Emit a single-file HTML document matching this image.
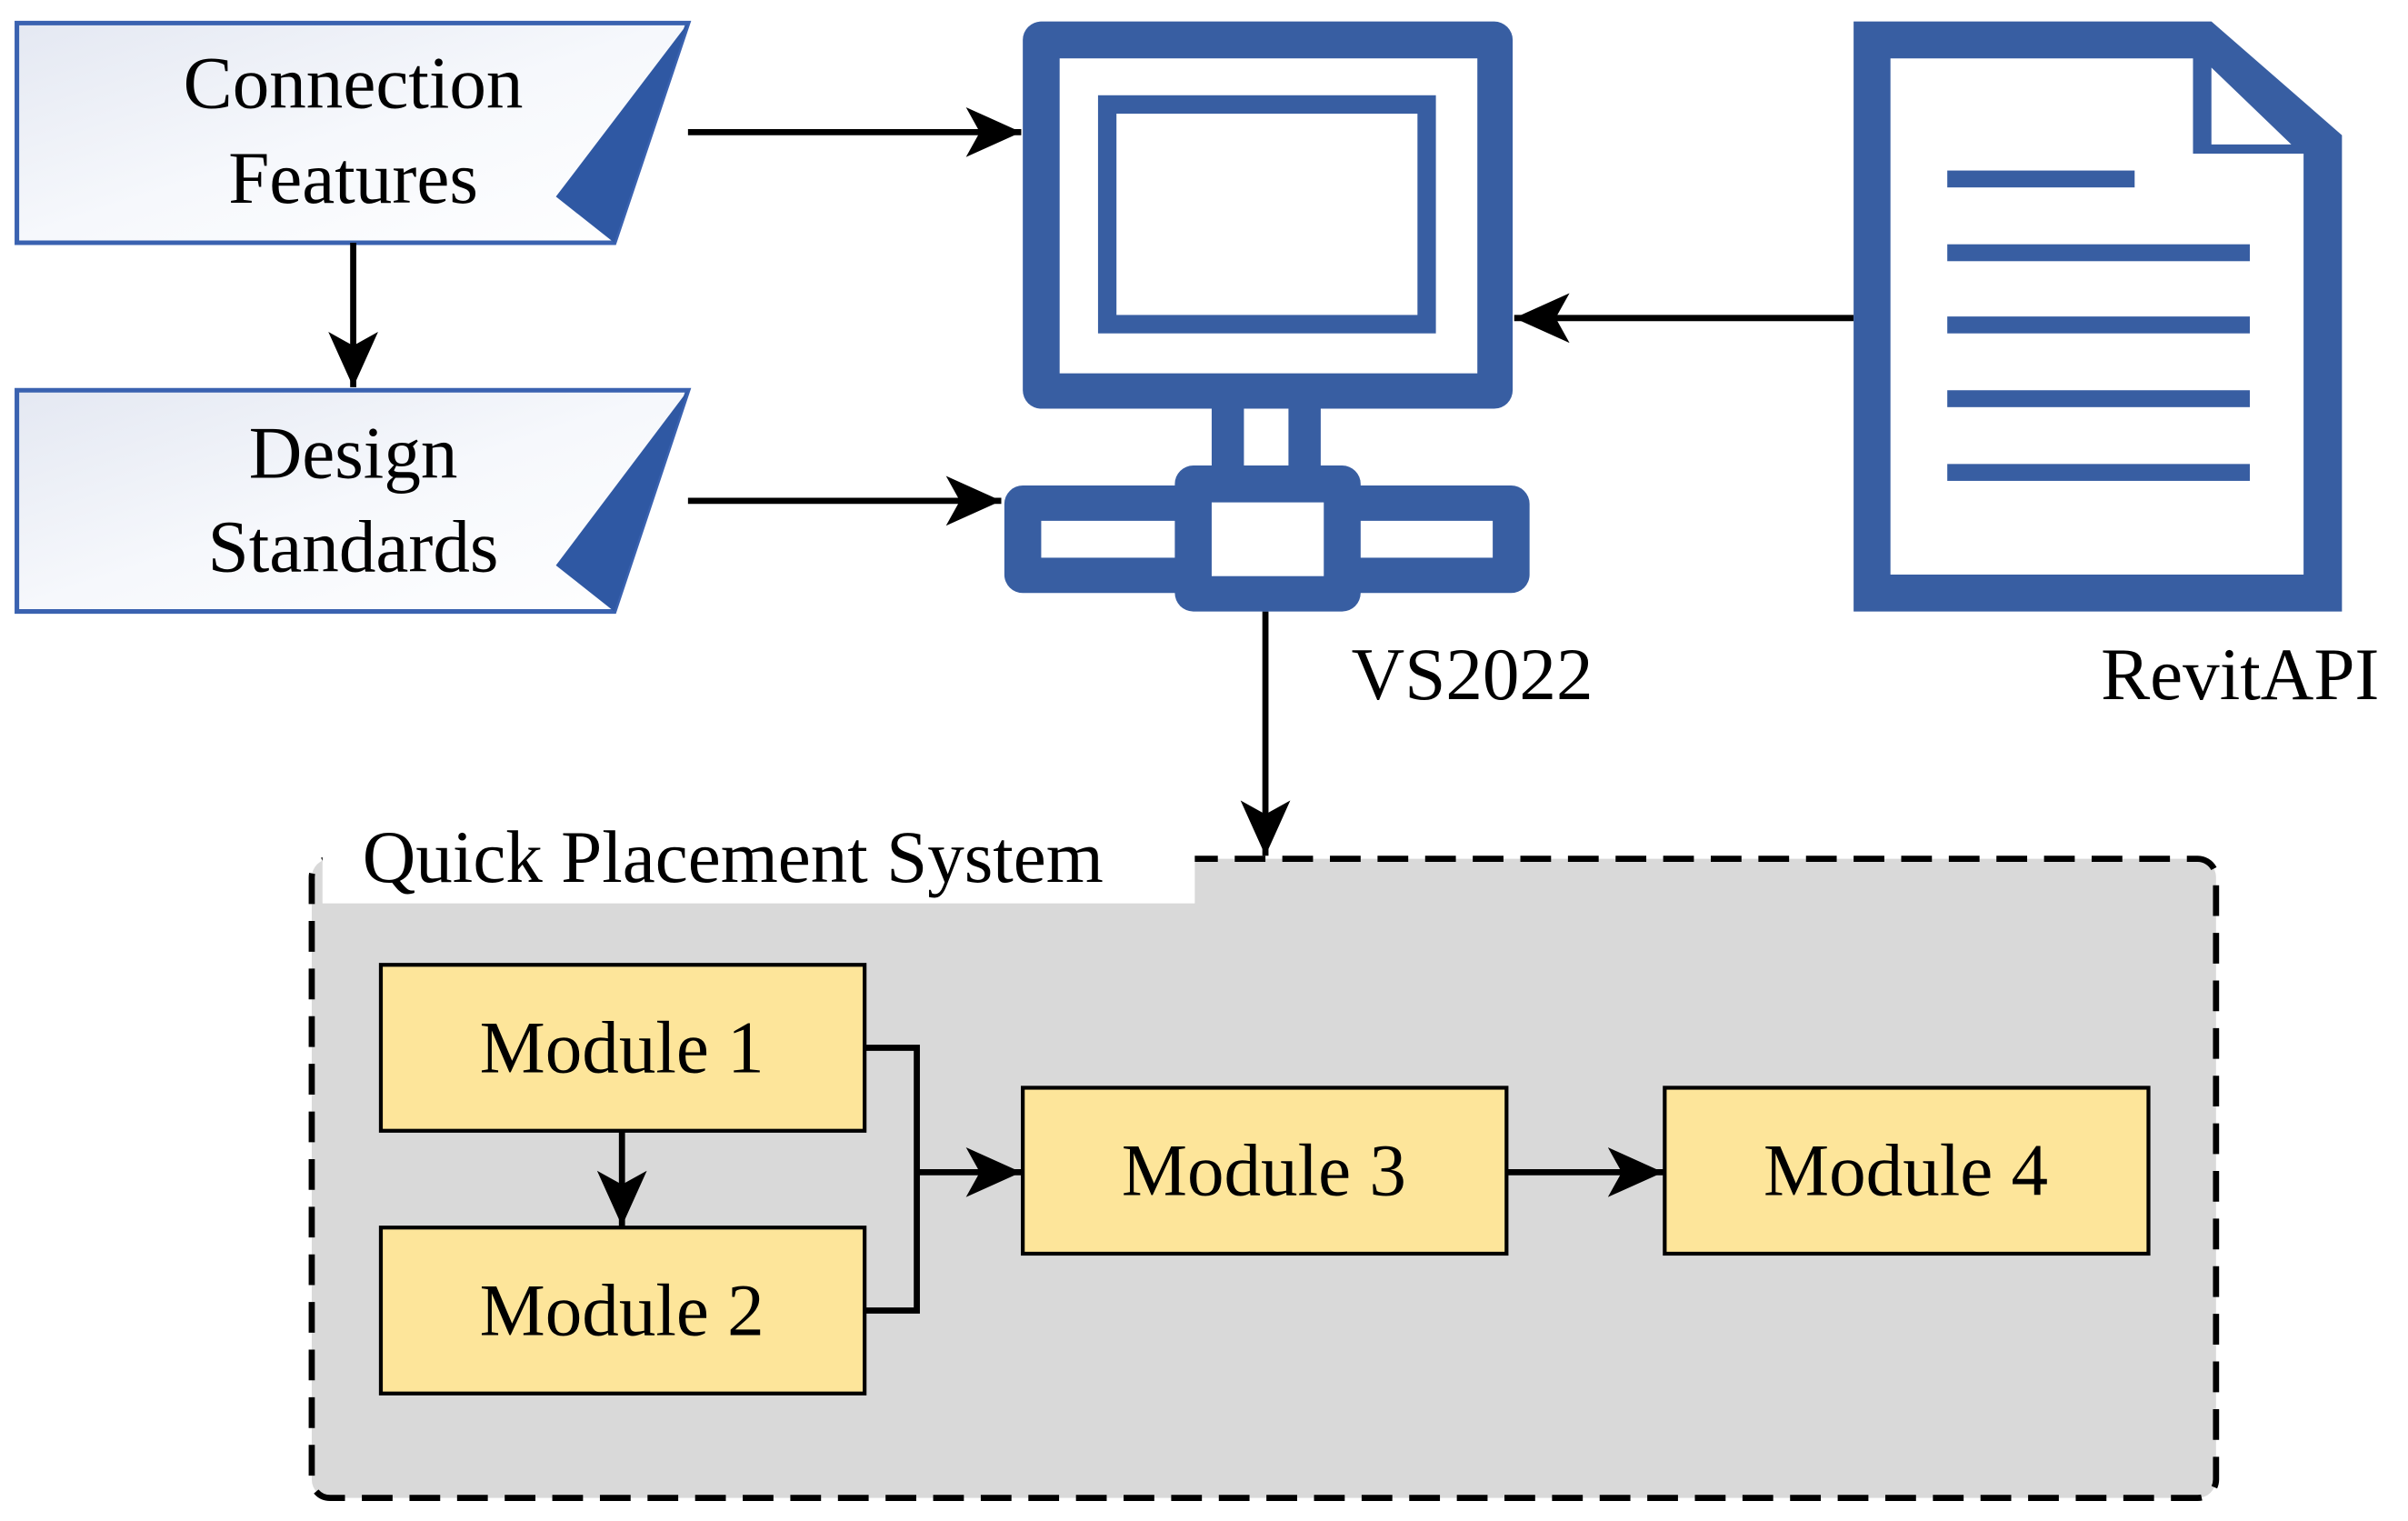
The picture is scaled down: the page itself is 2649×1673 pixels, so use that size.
<!DOCTYPE html>
<html><head><style>html,body{margin:0;padding:0;background:#fff}svg{display:block}text{font-family:"Liberation Serif","Times New Roman",serif}</style></head>
<body>
<svg width="2649" height="1673" viewBox="0 0 1568 990" preserveAspectRatio="none" xmlns="http://www.w3.org/2000/svg">
<defs>
<linearGradient id="g" x1="0" y1="0" x2="1" y2="1"><stop offset="0" stop-color="#e4e8f2"/><stop offset="0.5" stop-color="#f6f8fc"/><stop offset="1" stop-color="#fff"/></linearGradient>
<marker id="b" viewBox="0 0 10 10" refX="10" refY="5" markerWidth="36" markerHeight="36" markerUnits="userSpaceOnUse" orient="auto"><path d="M0,0.5 L10,5 L0,9.5 L2.5,5 Z" fill="#000"/></marker>
</defs>
<g fill="#000">
<path d="M11,15 H448 L400,158 H11 Z" fill="url(#g)" stroke="#3a62b0" stroke-width="3"/>
<path d="M448,15 L400,158 L362,128 Z" fill="#2f58a3"/>
<text x="230" y="70" font-size="48" text-anchor="middle">Connection</text>
<text x="230" y="132" font-size="48" text-anchor="middle">Features</text>
<path d="M11,254 H448 L400,398 H11 Z" fill="url(#g)" stroke="#3a62b0" stroke-width="3"/>
<path d="M448,254 L400,398 L362,368 Z" fill="#2f58a3"/>
<text x="230" y="311" font-size="48" text-anchor="middle">Design</text>
<text x="230" y="372" font-size="48" text-anchor="middle">Standards</text>
<g stroke="#000" stroke-width="4" fill="none">
<line x1="230" y1="158" x2="230" y2="252" marker-end="url(#b)"/>
<line x1="448" y1="86" x2="665" y2="86" marker-end="url(#b)"/>
<line x1="448" y1="326" x2="652" y2="326" marker-end="url(#b)"/>
<line x1="1207" y1="207" x2="986" y2="207" marker-end="url(#b)"/>
<line x1="824" y1="398" x2="824" y2="557" marker-end="url(#b)"/>
</g>
<g fill="#385ea2">
<rect x="666" y="14" width="319" height="252" rx="12"/>
<rect x="789" y="262" width="21" height="46"/>
<rect x="839" y="262" width="21" height="46"/>
<rect x="654" y="316" width="342" height="70" rx="12"/>
<rect x="765" y="303" width="121" height="95" rx="12"/>
</g>
<rect x="690" y="38" width="272" height="205" fill="#fff"/>
<rect x="721" y="68" width="208" height="143" fill="none" stroke="#385ea2" stroke-width="12"/>
<rect x="678" y="339" width="87" height="24" fill="#fff"/>
<rect x="886" y="339" width="86" height="24" fill="#fff"/>
<rect x="789" y="327" width="73" height="48" fill="#fff"/>
<text x="880" y="455" font-size="48">VS2022</text>
<path d="M1207,14 H1440 L1525,88 V398 H1207 Z" fill="#385ea2"/>
<path d="M1231,38 H1428 V100 H1500 V374 H1231 Z" fill="#fff"/>
<path d="M1440,44 L1492,94 H1440 Z" fill="#fff"/>
<g fill="#385ea2">
<rect x="1268" y="111" width="122" height="11"/>
<rect x="1268" y="159" width="197" height="11"/>
<rect x="1268" y="206" width="197" height="11"/>
<rect x="1268" y="254" width="197" height="11"/>
<rect x="1268" y="302" width="197" height="11"/>
</g>
<text x="1368" y="455" font-size="48">RevitAPI</text>
<rect x="203" y="559" width="1240" height="416" rx="12" fill="#d9d9d9" stroke="#000" stroke-width="4" stroke-dasharray="20,11"/>
<rect x="210" y="540" width="568" height="48" fill="#fff"/>
<text x="236" y="574" font-size="48">Quick Placement System</text>
<g fill="#fde59a" stroke="#000" stroke-width="2.5">
<rect x="248" y="628" width="315" height="108"/>
<rect x="248" y="799" width="315" height="108"/>
<rect x="666" y="708" width="315" height="108"/>
<rect x="1084" y="708" width="315" height="108"/>
</g>
<g font-size="48" text-anchor="middle">
<text x="405" y="698">Module 1</text>
<text x="405" y="869">Module 2</text>
<text x="823" y="778">Module 3</text>
<text x="1241" y="778">Module 4</text>
</g>
<g stroke="#000" stroke-width="4" fill="none">
<polyline points="563,682 597,682 597,853 563,853"/>
<line x1="597" y1="763" x2="665" y2="763" marker-end="url(#b)"/>
<line x1="981" y1="763" x2="1083" y2="763" marker-end="url(#b)"/>
<line x1="405" y1="736" x2="405" y2="798" marker-end="url(#b)"/>
</g>
</g>
</svg>
</body></html>
